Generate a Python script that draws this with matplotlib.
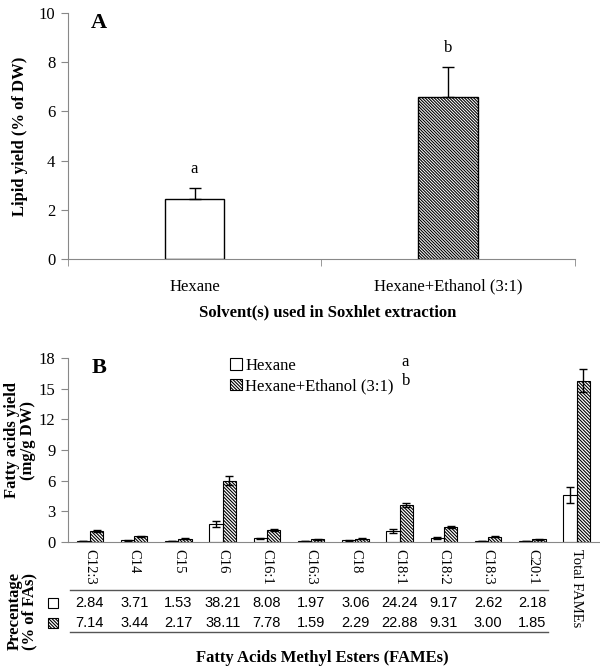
#import the necessary libraries
import matplotlib
matplotlib.use("Agg")
import matplotlib.pyplot as plt
import matplotlib.transforms as mtransforms
from matplotlib.patches import Rectangle
import numpy as np

plt.rcParams['font.family'] = ['Liberation Serif', 'DejaVu Serif']
plt.rcParams['hatch.linewidth'] = 0.8

# panel A data
solvents = ['Hexane', 'Hexane+Ethanol (3:1)']
lipid_yield = [2.44, 6.59]
lipid_err = [0.45, 1.21]
lipid_letters = ['a', 'b']

# panel B data
fames = ['C12:3', 'C14', 'C15', 'C16', 'C16:1', 'C16:3', 'C18', 'C18:1',
         'C18:2', 'C18:3', 'C20:1', 'Total FAMEs']
hexane_yield = [0.10, 0.15, 0.08, 1.75, 0.38, 0.10, 0.15, 1.08, 0.39, 0.10, 0.07, 4.60]
hexane_err = [0.02, 0.02, 0.01, 0.30, 0.05, 0.02, 0.02, 0.20, 0.06, 0.03, 0.01, 0.80]
ethanol_yield = [1.10, 0.55, 0.33, 5.98, 1.20, 0.26, 0.34, 3.60, 1.47, 0.52, 0.25, 15.78]
ethanol_err = [0.08, 0.05, 0.04, 0.45, 0.08, 0.05, 0.04, 0.20, 0.08, 0.06, 0.03, 1.15]

# percentage table (% of FAs)
hexane_pct = ['2.84', '3.71', '1.53', '38.21', '8.08', '1.97', '3.06', '24.24', '9.17', '2.62', '2.18']
ethanol_pct = ['7.14', '3.44', '2.17', '38.11', '7.78', '1.59', '2.29', '22.88', '9.31', '3.00', '1.85']

gray = '#888888'
hatchA = '\\' * 11   # dense diagonal lines
hatchB = '\\' * 10

fig = plt.figure(figsize=(6, 6.68), dpi=100)

# ---------------- panel A ----------------
axA = fig.add_axes([0.113, 0.612, 0.845, 0.3685])
xA = np.arange(len(solvents))
ekwA = dict(ecolor='black', elinewidth=1, capsize=4, capthick=1)
axA.bar(xA[0], lipid_yield[0], 0.235, color='white', edgecolor='black', linewidth=1,
        yerr=[[0], [lipid_err[0]]], error_kw=ekwA)
axA.bar(xA[1], lipid_yield[1], 0.235, color='white', edgecolor='black', linewidth=1, hatch=hatchA,
        yerr=[[0], [lipid_err[1]]], error_kw=ekwA)
for i in range(len(solvents)):
    axA.text(xA[i], lipid_yield[i] + lipid_err[i] + 0.45, lipid_letters[i],
             ha='center', va='bottom', fontsize=12)
axA.set_xlim(-0.5, 1.5)
axA.set_ylim(0, 10)
axA.set_yticks([0, 2, 4, 6, 8, 10])
axA.set_xticks(xA)
axA.set_xticklabels(solvents, fontsize=12)
axA.set_xticks([-0.5, 0.5, 1.5], minor=True)
axA.tick_params(axis='x', which='major', length=0, pad=14)
axA.tick_params(axis='x', which='minor', length=5, color=gray, direction='out')
axA.tick_params(axis='y', labelsize=12, length=5, color=gray, pad=4)
for s in ['top', 'right']:
    axA.spines[s].set_visible(False)
for s in ['left', 'bottom']:
    axA.spines[s].set_color(gray)
axA.text(0.045, 1.0, 'A', transform=axA.transAxes, fontsize=16, fontweight='bold', va='top')
fig.text(20 / 600, 1 - 136 / 668, 'Lipid yield (% of DW)', rotation=90, ha='center', va='center',
         fontsize=12, fontweight='bold')
fig.text(328 / 600, 1 - 312 / 668, 'Solvent(s) used in Soxhlet extraction', ha='center', va='center',
         fontsize=12, fontweight='bold')

# ---------------- panel B ----------------
axB = fig.add_axes([0.113, 0.1886, 0.885, 0.2755])
xB = np.arange(len(fames))
w = 0.3
ekw = dict(ecolor='black', elinewidth=1, capsize=3, capthick=1)
b1 = axB.bar(xB - w / 2, hexane_yield, w, color='white', edgecolor='black', linewidth=0.8,
             yerr=hexane_err, error_kw=ekw, label='Hexane')
b2 = axB.bar(xB + w / 2, ethanol_yield, w, color='white', edgecolor='black', linewidth=0.8,
             hatch=hatchB, yerr=ethanol_err, error_kw=ekw, label='Hexane+Ethanol (3:1)')
axB.set_xlim(-0.5, len(fames) - 0.5)
axB.set_ylim(0, 18)
axB.set_yticks([0, 3, 6, 9, 12, 15, 18])
axB.set_xticks(xB)
axB.set_xticklabels(fames, rotation=-90, fontsize=10.5, va='top')
axB.tick_params(axis='x', length=0, pad=5)
axB.tick_params(axis='y', labelsize=12, length=5, color=gray, pad=4)
for s in ['top', 'right']:
    axB.spines[s].set_visible(False)
for s in ['left', 'bottom']:
    axB.spines[s].set_color(gray)
axB.text(0.045, 1.0, 'B', transform=axB.transAxes, fontsize=16, fontweight='bold', va='top')
leg = axB.legend(handles=[b1, b2], loc='upper left', bbox_to_anchor=(0.29, 1.045), frameon=False,
                 fontsize=12, handlelength=0.7, handleheight=0.7, handletextpad=0.2,
                 labelspacing=0.25, borderpad=0)
fig.text(405 / 600, 1 - 362 / 668, 'a', ha='center', va='center', fontsize=12)
fig.text(406 / 600, 1 - 381 / 668, 'b', ha='center', va='center', fontsize=12)
fig.text(20 / 600, 1 - 440 / 668, 'Fatty acids yield\n(mg/g DW)', rotation=90, ha='center',
         va='center', fontsize=12, fontweight='bold', linespacing=0.95)

# percentage table under the axis
trans = mtransforms.blended_transform_factory(axB.transData, fig.transFigure)
row1_y = 1 - 603 / 668
row2_y = 1 - 623 / 668
for i in range(len(hexane_pct)):
    axB.text(xB[i], row1_y, hexane_pct[i], transform=trans, ha='center', va='center',
             fontsize=10.5, family='Liberation Sans')
    axB.text(xB[i], row2_y, ethanol_pct[i], transform=trans, ha='center', va='center',
             fontsize=10.5, family='Liberation Sans')
for ly in [1 - 590 / 668, 1 - 632 / 668]:
    axB.plot([-0.45, 10.35], [ly, ly], transform=trans, color='#555555', linewidth=1,
             clip_on=False)
sq = 10 / 600
sqh = 10 / 668
fig.patches.append(Rectangle((48 / 600, row1_y - sqh / 2), sq, sqh, transform=fig.transFigure,
                             facecolor='white', edgecolor='black', linewidth=0.8))
fig.patches.append(Rectangle((48 / 600, row2_y - sqh / 2), sq, sqh, transform=fig.transFigure,
                             facecolor='white', edgecolor='black', linewidth=0.8, hatch=hatchB))
fig.text(22 / 600, 1 - 611 / 668, 'Precentage\n(% of FAs)', rotation=90, ha='center', va='center',
         fontsize=12, fontweight='bold', linespacing=0.95)
fig.text(322 / 600, 1 - 658 / 668, 'Fatty Acids Methyl Esters (FAMEs)', ha='center', va='center',
         fontsize=12, fontweight='bold')

fig.savefig('out.png', dpi=100)
